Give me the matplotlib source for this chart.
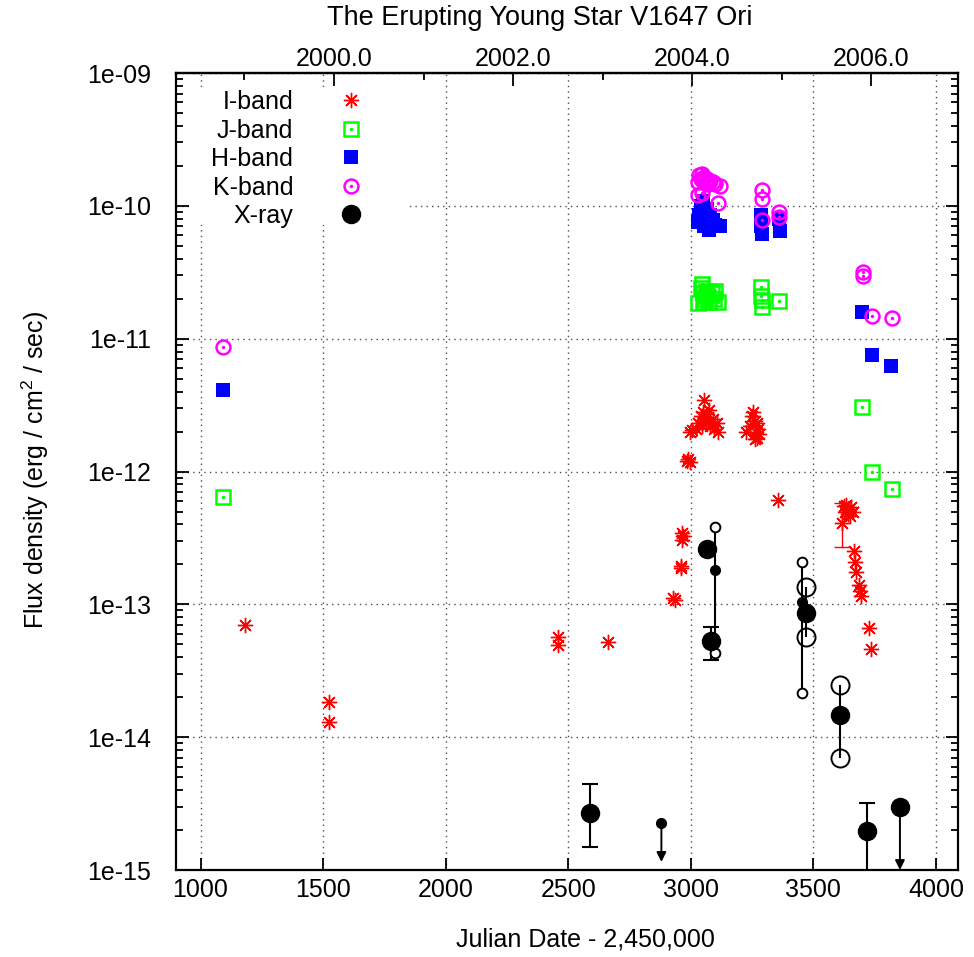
import numpy as np
import matplotlib.pyplot as plt
from matplotlib.ticker import FixedLocator, FuncFormatter, LogLocator, NullFormatter
from matplotlib.patches import Rectangle

plt.rcParams['font.family'] = ['Liberation Sans', 'DejaVu Sans']
plt.rcParams['mathtext.fontset'] = 'custom'
plt.rcParams['mathtext.rm'] = 'Liberation Sans'
plt.rcParams['font.size'] = 18

# ---- data (JD - 2450000, flux in erg/cm2/s) ----
i_jd = [1180, 1523, 1523, 2460, 2460, 2663, 2935, 2928, 2958, 2962, 2966, 2966, 2968,
        2985, 2990, 2995, 2998, 3005,
        3020, 3030, 3040, 3045, 3050, 3052, 3055, 3060, 3065, 3070, 3075, 3080, 3090,
        3095, 3105, 3110,
        3225, 3240, 3250, 3255, 3260, 3265, 3270, 3275, 3280, 3270, 3262,
        3354,
        3625, 3630, 3635, 3640, 3645, 3650, 3655, 3660,
        3665, 3670, 3672, 3685, 3690, 3693, 3726, 3734]
i_flux = [7.0e-14, 1.84e-14, 1.3e-14, 5.7e-14, 4.9e-14, 5.2e-14, 1.08e-13, 1.12e-13, 1.88e-13, 1.95e-13,
          3.44e-13, 3.05e-13, 3.25e-13,
          1.2e-12, 1.25e-12, 1.18e-12, 1.98e-12, 2.05e-12,
          2.1e-12, 2.3e-12, 2.6e-12, 2.2e-12, 2.8e-12, 3.45e-12, 2.5e-12, 2.4e-12, 2.7e-12, 2.35e-12,
          2.9e-12, 2.2e-12, 2.5e-12, 2.1e-12, 2.3e-12, 2.0e-12,
          2.0e-12, 2.2e-12, 2.6e-12, 2.8e-12, 2.4e-12, 2.0e-12, 1.8e-12, 2.1e-12, 1.9e-12, 2.3e-12, 1.75e-12,
          6.1e-13,
          5.5e-13, 5.0e-13, 5.6e-13, 4.8e-13, 5.2e-13, 4.6e-13, 5.4e-13, 5.0e-13,
          2.5e-13, 2.1e-13, 1.75e-13, 1.4e-13, 1.25e-13, 1.15e-13, 6.6e-14, 4.6e-14]
i_err_jd = [3616]
i_err_flux = [4.1e-13]
i_err_lo = [2.7e-13]
i_err_hi = [5.8e-13]

j_jd = [1090, 3030, 3040, 3045, 3050, 3055, 3060, 3065, 3075, 3085, 3095, 3110, 3100, 3050,
        3285, 3288, 3290, 3292, 3358, 3697, 3738, 3820]
j_flux = [6.4e-13, 1.85e-11, 2.4e-11, 2.6e-11, 2.2e-11, 2.0e-11, 2.3e-11, 2.1e-11, 1.9e-11, 2.2e-11,
          2.0e-11, 1.9e-11, 2.3e-11, 1.9e-11,
          2.45e-11, 2.1e-11, 1.95e-11, 1.72e-11, 1.92e-11, 3.06e-12, 1.0e-12, 7.4e-13]

h_jd = [1090, 3030, 3035, 3040, 3045, 3050, 3055, 3060, 3065, 3070, 3080, 3090, 3100, 3120, 3075,
        3285, 3288, 3290, 3360, 3362, 3700, 3738, 3816]
h_flux = [4.1e-12, 7.5e-11, 8.5e-11, 1.0e-10, 9.0e-11, 1.08e-10, 7.0e-11, 8.0e-11, 9.5e-11, 7.5e-11,
          8.5e-11, 7.8e-11, 7.2e-11, 7.0e-11, 6.6e-11,
          8.5e-11, 7.0e-11, 6.1e-11, 8.0e-11, 6.5e-11, 1.59e-11, 7.5e-12, 6.2e-12]

k_jd = [1090, 3030, 3035, 3040, 3045, 3050, 3055, 3060, 3065, 3070, 3080, 3090, 3100, 3120, 3030,
        3045, 3110, 3289, 3290, 3290, 3358, 3358, 3701, 3701, 3738, 3820]
k_flux = [8.65e-12, 1.5e-10, 1.7e-10, 1.6e-10, 1.75e-10, 1.55e-10, 1.65e-10, 1.5e-10, 1.6e-10, 1.45e-10,
          1.55e-10, 1.5e-10, 1.45e-10, 1.4e-10, 1.2e-10, 1.25e-10, 1.05e-10,
          1.31e-10, 1.12e-10, 7.8e-11, 9.0e-11, 8.2e-11, 3.2e-11, 2.95e-11, 1.48e-11, 1.43e-11]

# X-ray: best fits (large dots)
x_jd = [2590, 3068, 3084, 3468, 3608, 3718]
x_flux = [2.7e-15, 2.6e-13, 5.3e-14, 8.6e-14, 1.47e-14, 1.96e-15]
# capped error bars
xe_jd = [2590, 3084, 3718]
xe_flux = [2.7e-15, 5.3e-14, 1.96e-15]
xe_lo = [1.49e-15, 3.8e-14, 8e-16]
xe_hi = [4.44e-15, 6.75e-14, 3.19e-15]
# range from alternative models (large open circles)
xr_jd = [3468, 3608]
xr_lo = [5.7e-14, 6.97e-15]
xr_hi = [1.35e-13, 2.47e-14]
# second model (small dots, small open circles at range ends)
xs_jd = [3097, 3452]
xs_flux = [1.81e-13, 1.04e-13]
xs_lo = [4.3e-14, 2.15e-14]
xs_hi = [3.82e-13, 2.08e-13]
# upper limits
xu_jd = [2880, 3853]
xu_flux = [2.26e-15, 2.98e-15]
xu_end = [1.15e-15, 1.0e-15]
xu_size = [7, 13]

year_ticks = [2000, 2002, 2004, 2006]
year_minor = [1999, 2001, 2003, 2005]


def jd2yr(x):
    return 2000.0 + (np.asarray(x) - 1544.5) / 365.25


def yr2jd(y):
    return 1544.5 + (np.asarray(y) - 2000.0) * 365.25


fig = plt.figure(figsize=(9.74, 9.57), dpi=100)
ax = fig.add_axes([0.1807, 0.0909, 0.8029, 0.8328])
ax.set_yscale('log')
ax.set_xlim(900, 4090)
ax.set_ylim(1e-15, 1e-9)

# I band
hI, = ax.plot(i_jd, i_flux, ls='none', marker=(8, 2, 0), ms=11, mec='red', mew=1.0, zorder=3)
ax.errorbar(i_err_jd, i_err_flux, yerr=[np.subtract(i_err_flux, i_err_lo), np.subtract(i_err_hi, i_err_flux)],
            fmt='none', ecolor='red', elinewidth=1, capsize=6, capthick=1, zorder=3)
ax.plot(i_err_jd, i_err_flux, ls='none', marker=(8, 2, 0), ms=11, mec='red', mew=1.0, zorder=3)

# J band
hJ1, = ax.plot(j_jd, j_flux, ls='none', marker='s', ms=10, mfc='none', mec='#00ff00', mew=1.8, zorder=3)
hJ2, = ax.plot(j_jd, j_flux, ls='none', marker='o', ms=2.5, mfc='#00ff00', mec='none', zorder=3)

# H band
hH, = ax.plot(h_jd, h_flux, ls='none', marker='s', ms=9.5, mfc='blue', mec='blue', mew=0, zorder=3)

# K band
hK1, = ax.plot(k_jd, k_flux, ls='none', marker='o', ms=10, mfc='none', mec='#ff00ff', mew=1.8, zorder=3)
hK2, = ax.plot(k_jd, k_flux, ls='none', marker='o', ms=2.5, mfc='#ff00ff', mec='none', zorder=3)

# X-ray
ax.errorbar(xe_jd, xe_flux, yerr=[np.subtract(xe_flux, xe_lo), np.subtract(xe_hi, xe_flux)],
            fmt='none', ecolor='k', elinewidth=1.5, capsize=6, capthick=1.5, zorder=4)
ax.vlines(xr_jd, xr_lo, xr_hi, color='k', lw=1.5, zorder=4)
ax.plot(xr_jd + xr_jd, xr_lo + xr_hi, ls='none', marker='o', ms=13, mfc='none', mec='k', mew=1.4, zorder=4)
ax.vlines(xs_jd, xs_lo, xs_hi, color='k', lw=1.5, zorder=4)
ax.plot(xs_jd + xs_jd, xs_lo + xs_hi, ls='none', marker='o', ms=7, mfc='white', mec='k', mew=1.4, zorder=4)
ax.plot(xs_jd, xs_flux, ls='none', marker='o', ms=7, mfc='k', mec='k', zorder=4)
hX, = ax.plot(x_jd, x_flux, ls='none', marker='o', ms=13, mfc='k', mec='k', zorder=5)
for xj, xf, xe, xsz in zip(xu_jd, xu_flux, xu_end, xu_size):
    ax.plot([xj], [xf], ls='none', marker='o', ms=xsz, mfc='k', mec='k', zorder=5)
    ax.annotate('', xy=(xj, xe), xytext=(xj, xf),
                arrowprops=dict(arrowstyle='-|>', color='k', lw=1.4, mutation_scale=14,
                                shrinkA=0, shrinkB=0), zorder=5)

# axes styling
ax.yaxis.set_major_locator(LogLocator(base=10, numticks=10))
ax.yaxis.set_minor_locator(LogLocator(base=10, subs=np.arange(2, 10), numticks=100))
ax.yaxis.set_minor_formatter(NullFormatter())
ax.yaxis.set_major_formatter(FuncFormatter(lambda v, p: '1e-%02d' % int(round(-np.log10(v)))))
ax.set_xticks(np.arange(1000, 4001, 500))
ax.tick_params(which='both', direction='in', top=False, right=True, width=1.3)
ax.tick_params(which='major', length=9)
ax.tick_params(which='minor', length=5)
ax.tick_params(axis='y', pad=18)
ax.tick_params(axis='x', pad=6)
for s in ax.spines.values():
    s.set_linewidth(1.6)
ax.grid(True, which='major', color='0.3', ls=(0, (1, 3)), lw=1)

top = ax.secondary_xaxis('top', functions=(jd2yr, yr2jd))
top.set_xticks(year_ticks)
top.xaxis.set_major_formatter(FuncFormatter(lambda v, p: '%.1f' % v))
top.xaxis.set_minor_locator(FixedLocator(year_minor))
top.tick_params(which='both', direction='in', width=1.3, pad=1.5)
top.tick_params(which='major', length=9)
top.tick_params(which='minor', length=5)
top.spines['top'].set_linewidth(1.6)

# white box behind the key hides the grid
ax.add_patch(Rectangle((0.02, 0.809), 0.277, 0.173, transform=ax.transAxes,
                       facecolor='white', edgecolor='none', zorder=1.8))
ax.legend(handles=[hI, (hJ1, hJ2), hH, (hK1, hK2), hX],
          labels=['I-band', 'J-band', 'H-band', 'K-band', 'X-ray'],
          loc='upper right', bbox_to_anchor=(0.2398, 0.9786), markerfirst=False, frameon=False,
          handlelength=1.0, handletextpad=1.82, labelspacing=0.18, borderpad=0, borderaxespad=0,
          numpoints=1)

ax.set_xlabel('Julian Date - 2,450,000', va='center')
ax.xaxis.set_label_coords(0.523, -0.0878)
ax.set_ylabel('Flux density (erg / cm$^2$ / sec)', va='center')
ax.yaxis.set_label_coords(-0.180, 0.502)
fig.text(540 / 974, 1 - 18 / 957, 'The Erupting Young Star V1647 Ori', ha='center', va='center',
         fontsize=19.5)

fig.savefig('out.png', dpi=100)
